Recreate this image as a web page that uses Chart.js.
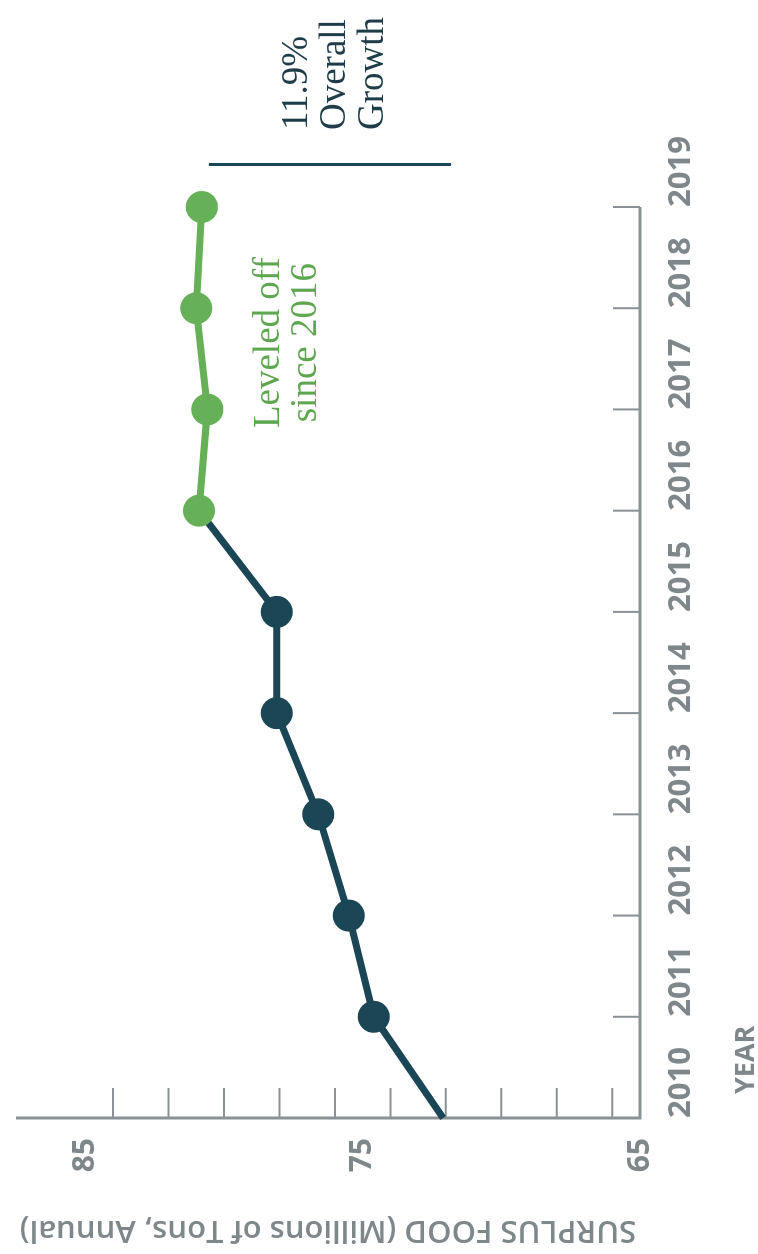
<!DOCTYPE html>
<html>
<head>
<meta charset="utf-8">
<script src="https://cdn.jsdelivr.net/npm/chart.js@4.4.1/dist/chart.umd.min.js"></script>
<style>
  html, body { margin: 0; padding: 0; background: #ffffff; overflow: hidden; }
  body { width: 758px; height: 1254px; position: relative; }
  #wrap {
    position: absolute; left: 0; top: 0;
    width: 1254px; height: 758px;
    transform-origin: 0 0;
    transform: translate(0px, 1254px) rotate(-90deg);
  }
  canvas { display: block; }
</style>
</head>
<body>
<div id="wrap"><canvas id="c" width="1254" height="758"></canvas></div>
<script>
// ---- data ----
const years = [2010, 2011, 2012, 2013, 2014, 2015, 2016, 2017, 2018, 2019];
const surplusFood = [72.1, 74.6, 75.5, 76.6, 78.1, 78.1, 80.9, 80.6, 81.0, 80.8];
const valueTickLabels = [65, 75, 85];
const valueMinorTicks = [66, 68, 70, 72, 74, 76, 78, 80, 82, 84];
const leveledFromIndex = 6; // 2016
const yTitle = 'SURPLUS FOOD (Millions of Tons, Annual)';
const xTitle = 'YEAR';
const noteLeveled = ['Leveled off', 'since 2016'];
const noteGrowth = ['11.9%', 'Overall', 'Growth'];

// ---- styles ----
const DARK = '#1b4655';
const GREEN = '#66b057';
const GREEN_TEXT = '#5ea650';
const AXIS = '#8a9195';
const LABEL = '#7f878b';

const points = years.map((y, i) => ({ x: y, y: surplusFood[i] }));

const axesPlugin = {
  id: 'axesPlugin',
  beforeDatasetsDraw(chart) {
    const { ctx, chartArea: a } = chart;
    const xs = chart.scales.x, ys = chart.scales.y;
    ctx.save();
    // axis lines
    ctx.strokeStyle = AXIS;
    ctx.lineWidth = 3;
    ctx.beginPath();
    ctx.moveTo(a.left, a.top);
    ctx.lineTo(a.left, a.bottom);
    ctx.lineTo(xs.getPixelForValue(years[years.length - 1]), a.bottom);
    ctx.stroke();
    // inner ticks
    ctx.lineWidth = 2;
    ctx.beginPath();
    valueMinorTicks.forEach(v => {
      const py = ys.getPixelForValue(v);
      ctx.moveTo(a.left, py);
      ctx.lineTo(a.left + 30, py);
    });
    years.slice(1).forEach(yr => {
      const px = xs.getPixelForValue(yr);
      ctx.moveTo(px, a.bottom);
      ctx.lineTo(px, a.bottom - 27);
    });
    ctx.stroke();
    // year labels
    ctx.fillStyle = LABEL;
    ctx.font = 'bold 31px "Open Sans"';
    ctx.textAlign = 'left';
    ctx.textBaseline = 'middle';
    years.forEach(yr => {
      ctx.fillText(String(yr), xs.getPixelForValue(yr), a.bottom + 41);
    });
    // value labels
    ctx.font = 'bold 30px "Open Sans"';
    ctx.textAlign = 'right';
    valueTickLabels.forEach(v => {
      ctx.fillText(String(v), a.left - 20, ys.getPixelForValue(v));
    });
    // x title
    ctx.font = 'bold 27px "Open Sans"';
    ctx.textAlign = 'left';
    ctx.fillText(xTitle, a.left + 24, a.bottom + 106);
    // y title
    ctx.save();
    ctx.translate(24, (a.top + a.bottom) / 2);
    ctx.rotate(-Math.PI / 2);
    ctx.font = '600 31px "Open Sans"';
    ctx.textAlign = 'center';
    ctx.textBaseline = 'middle';
    ctx.fillText(yTitle, 0, 0);
    ctx.restore();
    ctx.restore();
  },
  afterDatasetsDraw(chart) {
    const { ctx } = chart;
    const xs = chart.scales.x, ys = chart.scales.y;
    ctx.save();
    // leveled note
    ctx.fillStyle = GREEN_TEXT;
    ctx.font = '37px "Liberation Serif"';
    ctx.textAlign = 'center';
    ctx.textBaseline = 'alphabetic';
    const lx = xs.getPixelForValue(2017.66);
    noteLeveled.forEach((t, i) => {
      ctx.fillText(t, lx, ys.getPixelForValue(78) + i * 37);
    });
    // growth note
    ctx.fillStyle = '#1f3d48';
    ctx.textAlign = 'left';
    const gx = xs.getPixelForValue(2019.76);
    noteGrowth.forEach((t, i) => {
      ctx.fillText(t, gx, ys.getPixelForValue(77) + i * 38);
    });
    // growth bracket
    const bx = xs.getPixelForValue(2019.42);
    ctx.strokeStyle = DARK;
    ctx.lineWidth = 3;
    ctx.beginPath();
    ctx.moveTo(bx, ys.getPixelForValue(surplusFood[0]) + 8);
    ctx.lineTo(bx, ys.getPixelForValue(surplusFood[surplusFood.length - 1]) + 7);
    ctx.stroke();
    ctx.restore();
  }
};

const pointColors = years.map((_, i) => i >= leveledFromIndex ? GREEN : DARK);
const pointRadii = years.map((_, i) => i === 0 ? 0 : 16);

new Chart(document.getElementById('c'), {
  type: 'line',
  data: {
    datasets: [{
      data: points,
      borderWidth: 7,
      borderColor: DARK,
      pointRadius: pointRadii,
      pointHoverRadius: pointRadii,
      pointBackgroundColor: pointColors,
      pointBorderColor: pointColors,
      pointBorderWidth: 0,
      tension: 0,
      clip: false,
      segment: {
        borderColor: c => c.p0DataIndex >= leveledFromIndex ? GREEN : DARK
      }
    }]
  },
  options: {
    responsive: false,
    devicePixelRatio: 1,
    animation: false,
    events: [],
    layout: { padding: { left: 136, right: 207, top: 10, bottom: 118 } },
    plugins: { legend: { display: false }, tooltip: { enabled: false } },
    scales: {
      x: { type: 'linear', min: 2010, max: 2019, display: false },
      y: { type: 'linear', min: 65, max: 87.5, display: false }
    }
  },
  plugins: [axesPlugin]
});
</script>
</body>
</html>
